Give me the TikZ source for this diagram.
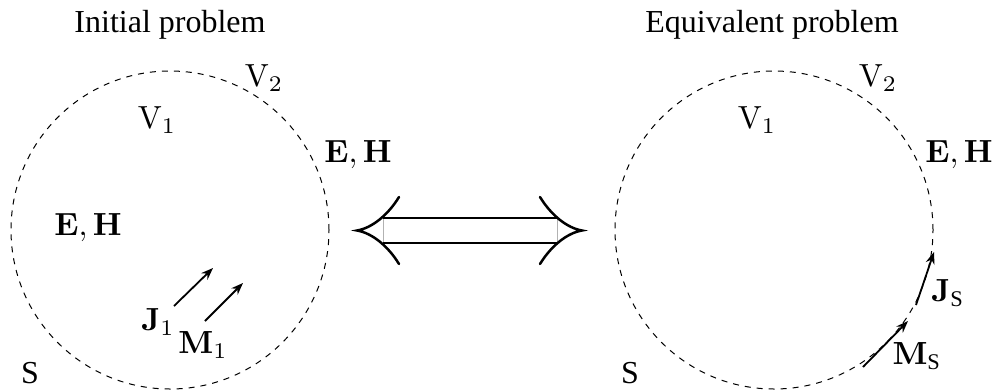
\RequirePackage{fix-cm}
\documentclass[tikz,border=0pt]{standalone}
\usepackage{amsmath}
\usepackage[no-math]{fontspec}
\newfontfamily\timesfont{Liberation Serif}
\usetikzlibrary{arrows.meta}
\begin{document}
\begin{tikzpicture}[x=1pt,y=-1pt,
  lbl/.style={inner sep=0pt,scale=3.2,transform shape,font=\normalsize},
  ttl/.style={inner sep=0pt,font=\fontsize{32}{38}\selectfont\timesfont},
  bound/.style={draw,dashed,dash pattern=on 6pt off 6pt,line width=1pt},
  cur/.style={line width=1.8pt,-{Stealth[length=12pt,width=9pt]}},
  dbl/.style={line width=2.5pt},
  head/.style={line width=2.5pt,line cap=round},
  edge/.style={line width=0.6pt,draw=black!30}]
\useasboundingbox (0,0) rectangle (998,389);
% left
\node[ttl] (t1) at (170,25) {Initial problem};
\draw[bound] (170,230) circle[radius=159pt];
\node[lbl] (v2a) at (264,78) {$\mathrm{V}_2$};
\node[lbl] (v1a) at (157,120) {$\mathrm{V}_1$};
\node[lbl] (eha) at (358,155) {$\mathbf{E}, \mathbf{H}$};
\node[lbl] (ehb) at (88,228) {$\mathbf{E}, \mathbf{H}$};
\node[lbl] (j1) at (158,322) {$\mathbf{J}_1$};
\node[lbl] (m1) at (203,345) {$\mathbf{M}_1$};
\node[lbl] (sa) at (30,373) {\timesfont S};
\coordinate (j1s) at (174,306); \coordinate (j1e) at (213,268);
\coordinate (m1s) at (205,321); \coordinate (m1e) at (243,283);
\draw[cur] (j1s) -- (j1e);
\draw[cur] (m1s) -- (m1e);
% middle double arrow
\coordinate (al) at (357,230.5); \coordinate (ar) at (582,230.5);
\coordinate (lt) at (399,197); \coordinate (lb) at (399,264);
\coordinate (rt) at (540,197); \coordinate (rb) at (540,264);
\coordinate (s1) at (383,218); \coordinate (s2) at (557,218);
\coordinate (s3) at (383,243); \coordinate (s4) at (557,243);
\draw[edge] (s1) -- (s3);
\draw[edge] (s2) -- (s4);
\draw[dbl] (s1) -- (s2);
\draw[dbl] (s3) -- (s4);
\draw[head] (lt) .. controls (388,215) and (372,228) .. (al) .. controls (372,233) and (388,246) .. (lb);
\draw[head] (rt) .. controls (551,215) and (567,228) .. (ar) .. controls (567,233) and (551,246) .. (rb);
% right
\node[ttl] (t2) at (772,25) {Equivalent problem};
\draw[bound] (774,230) circle[radius=159pt];
\node[lbl] (v2b) at (878,78) {$\mathrm{V}_2$};
\node[lbl] (v1b) at (757,120) {$\mathrm{V}_1$};
\node[lbl] (ehc) at (959,155) {$\mathbf{E}, \mathbf{H}$};
\node[lbl] (js) at (948,293) {$\mathbf{J}_{\text{\timesfont S}}$};
\node[lbl] (ms) at (917,356) {$\mathbf{M}_{\text{\timesfont S}}$};
\node[lbl] (sb) at (630,373) {\timesfont S};
\coordinate (jss) at (916,305); \coordinate (jse) at (934,252);
\coordinate (mss) at (863,367); \coordinate (mse) at (908,321);
\draw[cur] (jss) -- (jse);
\draw[cur] (mss) -- (mse);
\end{tikzpicture}
\end{document}
